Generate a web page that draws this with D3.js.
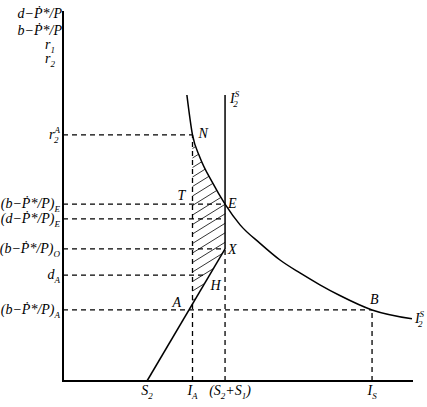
<!DOCTYPE html>
<html>
<head>
<meta charset="utf-8">
<script src="https://cdn.jsdelivr.net/npm/d3@7"></script>
<style>
  body { margin: 0; background: #fff; }
  text { font-family: "Liberation Serif", "Times New Roman", serif; font-style: italic; font-size: 14px; fill: #000; }
</style>
</head>
<body>
<svg id="vis" width="427" height="407"></svg>
<script>
// I2S schedule (x, y)
const curveX = [3.54, 3.70, 3.91, 4.26, 4.63, 5.06, 5.63, 6.20, 6.77, 7.34, 7.91, 8.83, 9.97];
const curveY = [7.73, 6.65, 6.05, 5.38, 4.78, 4.22, 3.72, 3.27, 2.92, 2.60, 2.31, 1.92, 1.68];

// levels marked on the vertical axis
const levelNames = ['r2A', 'bE', 'dE', 'bO', 'dA', 'bA'];
const levelValues = [6.65, 4.78, 4.38, 3.57, 2.86, 1.92];

// points marked on the horizontal axis
const xNames = ['S2', 'IA', 'S2S1', 'IS'];
const xValues = [2.40, 3.70, 4.63, 8.83];

const lev = Object.fromEntries(levelNames.map((k, i) => [k, levelValues[i]]));
const xv = Object.fromEntries(xNames.map((k, i) => [k, xValues[i]]));

const svg = d3.select('#vis');
const x = d3.scaleLinear().domain([0, 10]).range([63, 413]);
const y = d3.scaleLinear().domain([0, 10]).range([381, 11]);

const line = d3.line().x(d => x(d[0])).y(d => y(d[1]));
const dash = '5,4';

// saving line S2 -> X
const slope = lev.bO / (xv.S2S1 - xv.S2);
const onLineX = v => xv.S2 + v / slope;
const onLineY = u => (u - xv.S2) * slope;

// schedule curve
const curvePts = curveX.map((d, i) => [d, curveY[i]]);
const curvePath = svg.append('path')
  .attr('d', line.curve(d3.curveMonotoneX)(curvePts))
  .attr('fill', 'none').attr('stroke', '#000').attr('stroke-width', 1.5);
line.curve(d3.curveLinear);

// hatched area N-E-X-A
const node = curvePath.node();
const len = node.getTotalLength();
const upper = [];
for (let s = 0; s <= len; s += 1) {
  const p = node.getPointAtLength(s);
  if (p.x >= x(xv.IA) - 0.5 && p.x <= x(xv.S2S1) + 0.5) upper.push([p.x, p.y]);
}
const poly = upper.concat([
  [x(xv.S2S1), y(lev.bO)],
  [x(xv.IA), y(onLineY(xv.IA))],
  [x(xv.IA), y(lev.r2A)]
]);
svg.append('clipPath').attr('id', 'hatch')
  .append('path').attr('d', 'M' + poly.map(p => p.join(',')).join('L') + 'Z');
const hg = svg.append('g').attr('clip-path', 'url(#hatch)');
const tilt = 0.62;
for (let c = 120; c < 340; c += 9.5) {
  hg.append('line')
    .attr('x1', x(xv.IA) - 5).attr('y1', c + 5 * tilt)
    .attr('x2', x(xv.S2S1) + 5).attr('y2', c - (x(xv.S2S1) - x(xv.IA) + 5) * tilt)
    .attr('stroke', '#000').attr('stroke-width', 0.8);
}

// dashed guides
const dashed = [
  [[0, lev.r2A], [xv.IA, lev.r2A]],
  [[0, lev.bE], [xv.S2S1, lev.bE]],
  [[0, lev.dE], [xv.S2S1, lev.dE]],
  [[0, lev.bO], [xv.S2S1, lev.bO]],
  [[0, lev.dA], [onLineX(lev.dA) - 0.08, lev.dA]],
  [[0, lev.bA], [xv.IS, lev.bA]],
  [[xv.IA, 0], [xv.IA, lev.r2A]],
  [[xv.S2S1, 0], [xv.S2S1, lev.bO]],
  [[xv.IS, 0], [xv.IS, lev.bA]]
];
svg.selectAll('path.guide').data(dashed).enter().append('path')
  .attr('class', 'guide')
  .attr('d', line)
  .attr('fill', 'none').attr('stroke', '#000').attr('stroke-width', 1.3)
  .attr('stroke-dasharray', dash);

// solid lines: I2S vertical above X, saving line
svg.append('path').attr('d', line([[xv.S2S1, lev.bO], [xv.S2S1, curveY[0]]]))
  .attr('stroke', '#000').attr('stroke-width', 1.5);
svg.append('path').attr('d', line([[xv.S2, 0], [xv.S2S1, lev.bO]]))
  .attr('stroke', '#000').attr('stroke-width', 1.5);

// axes
svg.append('path').attr('d', line([[0, 10], [0, 0], [10, 0]]))
  .attr('fill', 'none').attr('stroke', '#000').attr('stroke-width', 2);

// text with sub/superscripts
function label(px, py, parts, anchor) {
  const t = svg.append('text').attr('x', px).attr('y', py).attr('text-anchor', anchor || 'start');
  let cur = 0;
  parts.forEach(([s, pos, dx]) => {
    const off = pos === 'sub' ? 4 : pos === 'sup' ? -6 : 0;
    const ts = t.append('tspan').attr('dy', off - cur).text(s);
    if (pos) ts.style('font-size', '9px');
    if (dx) ts.attr('dx', dx);
    cur = off;
  });
  return t;
}

const PD = 'P\u0307';
// top-left axis title
label(62, 18, [['d\u2212' + PD + '*/P']], 'end');
label(62, 35, [['b\u2212' + PD + '*/P']], 'end');
label(55, 49, [['r'], ['1', 'sub']], 'end');
label(55, 63, [['r'], ['2', 'sub']], 'end');

// level labels
const levelLabels = {
  r2A: [['r'], ['A', 'sup'], ['2', 'sub', -6]],
  bE: [['(b\u2212' + PD + '*/P)'], ['E', 'sub']],
  dE: [['(d\u2212' + PD + '*/P)'], ['E', 'sub']],
  bO: [['(b\u2212' + PD + '*/P)'], ['O', 'sub']],
  dA: [['d'], ['A', 'sub']],
  bA: [['(b\u2212' + PD + '*/P)'], ['A', 'sub']]
};
levelNames.forEach((k, i) => label(60, y(levelValues[i]) + 4, levelLabels[k], 'end'));

// x labels
const xLabels = {
  S2: [['S'], ['2', 'sub']],
  IA: [['I'], ['A', 'sub']],
  S2S1: [['(S'], ['2', 'sub'], ['+S'], ['1', 'sub'], [')']],
  IS: [['I'], ['S', 'sub']]
};
const xShift = { S2: 0, IA: 0, S2S1: 5, IS: 0 };
xNames.forEach((k, i) => label(x(xValues[i]) + xShift[k], 395, xLabels[k], 'middle'));

// point labels
label(x(xv.IA) + 6, y(lev.r2A) + 3, [['N']]);
label(x(xv.IA) - 15, y(lev.bE) - 4, [['T']]);
label(x(xv.S2S1) + 3, y(lev.bE) + 4, [['E']]);
label(x(xv.S2S1) + 3, y(lev.bO) + 5, [['X']]);
label(x(onLineX(lev.dA)) + 1, y(lev.dA) + 15, [['H']]);
label(x(xv.IA) - 20, y(onLineY(xv.IA)) + 3, [['A']]);
label(x(xv.IS) - 2, y(lev.bA) - 6, [['B']]);
label(x(xv.S2S1) + 5, y(curveY[0]) + 8, [['I'], ['S', 'sup'], ['2', 'sub', -6]]);
label(x(curveX[curveX.length - 1]) + 3, y(curveY[curveY.length - 1]) + 4, [['I'], ['S', 'sup'], ['2', 'sub', -6]]);
</script>
</body>
</html>
